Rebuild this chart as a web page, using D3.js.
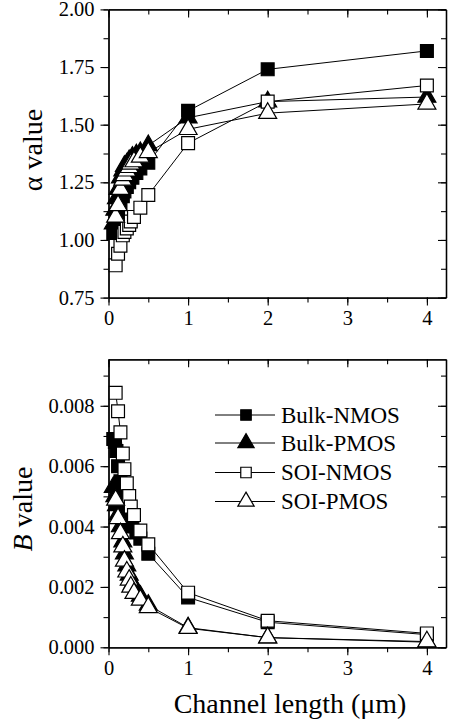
<!DOCTYPE html>
<html>
<head>
<meta charset="utf-8">
<script src="https://cdn.jsdelivr.net/npm/d3@7"></script>
<style>
  body { margin: 0; background: #fff; }
  svg { display: block; font-family: "Liberation Serif", "Times New Roman", serif; }
</style>
</head>
<body>
<svg id="chart" width="455" height="725"></svg>
<script>
// channel lengths (um)
const lengthBulk = [0.06, 0.08, 0.1, 0.12, 0.15, 0.18, 0.2, 0.23, 0.26, 0.3, 0.35, 0.4, 0.5, 1, 2, 4];
const lengthSOI = [0.09, 0.12, 0.15, 0.18, 0.2, 0.23, 0.26, 0.28, 0.32, 0.4, 0.5, 1, 2, 4];

// alpha values
const alphaBulkN = [1.03, 1.06, 1.09, 1.12, 1.16, 1.19, 1.21, 1.23, 1.25, 1.27, 1.29, 1.31, 1.335, 1.56, 1.74, 1.82];
const alphaBulkP = [1.07, 1.13, 1.18, 1.22, 1.27, 1.30, 1.32, 1.33, 1.345, 1.36, 1.37, 1.38, 1.41, 1.53, 1.60, 1.62];
const alphaSOIN = [0.89, 0.94, 0.975, 1.02, 1.035, 1.05, 1.065, 1.08, 1.10, 1.14, 1.195, 1.42, 1.60, 1.67];
const alphaSOIP = [1.10, 1.15, 1.22, 1.26, 1.28, 1.30, 1.315, 1.33, 1.34, 1.36, 1.38, 1.48, 1.55, 1.59];

// B values
const bBulkN = [0.0069, 0.0068, 0.0065, 0.0060, 0.0055, 0.0051, 0.0048, 0.0045, 0.0043, 0.0040, 0.0038, 0.0036, 0.0031, 0.00165, 0.00083, 0.00042];
const bBulkP = [0.0053, 0.0050, 0.0047, 0.0044, 0.0040, 0.0035, 0.0031, 0.0027, 0.0024, 0.0021, 0.0019, 0.0017, 0.0014, 0.00065, 0.00032, 0.00017];
const bSOIN = [0.00843, 0.00782, 0.00712, 0.00642, 0.0059, 0.00543, 0.00501, 0.00466, 0.00438, 0.00387, 0.00341, 0.00181, 0.00088, 0.00046];
const bSOIP = [0.00488, 0.00427, 0.00377, 0.00333, 0.00286, 0.0025, 0.00223, 0.002, 0.00179, 0.00157, 0.00132, 0.00063, 0.00032, 0.00019];

const seriesNames = ["Bulk-NMOS", "Bulk-PMOS", "SOI-NMOS", "SOI-PMOS"];
const xTicks = [0, 1, 2, 3, 4];
const alphaTicks = [0.75, 1.00, 1.25, 1.50, 1.75, 2.00];
const bTicks = [0.000, 0.002, 0.004, 0.006, 0.008];

const series = [
  {name: seriesNames[0], x: lengthBulk, a: alphaBulkN, b: bBulkN, shape: d3.symbolSquare, fill: "#000"},
  {name: seriesNames[1], x: lengthBulk, a: alphaBulkP, b: bBulkP, shape: d3.symbolTriangle, fill: "#000"},
  {name: seriesNames[2], x: lengthSOI, a: alphaSOIN, b: bSOIN, shape: d3.symbolSquare, fill: "#fff"},
  {name: seriesNames[3], x: lengthSOI, a: alphaSOIP, b: bSOIP, shape: d3.symbolTriangle, fill: "#fff"}
];

const svg = d3.select("#chart");
const left = 108.5, right = 446;

// marker paths, plot markers are a bit bigger than the legend ones
function symbolPath(shape, small) {
  let size = shape === d3.symbolSquare ? 165 : 140;
  if (small) size = shape === d3.symbolSquare ? 110 : 115;
  return d3.symbol().type(shape).size(size)();
}

function drawPanel(top, bottom, yDomain, yTicks, yMinor, fmt, key) {
  const x = d3.scaleLinear().domain([0, 4.24]).range([left, right]);
  const y = d3.scaleLinear().domain(yDomain).range([bottom, top]);
  const g = svg.append("g");
  const xMinor = d3.range(0, 4.25, 0.5);

  // left axis, outward ticks
  g.append("g").attr("transform", `translate(${left},0)`)
    .call(d3.axisLeft(y).tickValues(yMinor).tickSize(5).tickSizeOuter(0).tickFormat(""));
  g.append("g").attr("transform", `translate(${left},0)`)
    .call(d3.axisLeft(y).tickValues(yTicks).tickSize(8).tickPadding(6).tickSizeOuter(0).tickFormat(fmt));
  // right axis, inward ticks
  g.append("g").attr("transform", `translate(${right},0)`)
    .call(d3.axisRight(y).tickValues(yMinor).tickSize(-5).tickSizeOuter(0).tickFormat(""));
  g.append("g").attr("transform", `translate(${right},0)`)
    .call(d3.axisRight(y).tickValues(yTicks).tickSize(-8).tickSizeOuter(0).tickFormat(""));
  // bottom axis, outward ticks
  g.append("g").attr("transform", `translate(0,${bottom})`)
    .call(d3.axisBottom(x).tickValues(xMinor).tickSize(5).tickSizeOuter(0).tickFormat(""));
  g.append("g").attr("transform", `translate(0,${bottom})`)
    .call(d3.axisBottom(x).tickValues(xTicks).tickSize(8).tickPadding(5).tickSizeOuter(0).tickFormat(d3.format("d")));
  // top axis, inward ticks
  g.append("g").attr("transform", `translate(0,${top})`)
    .call(d3.axisTop(x).tickValues(xMinor).tickSize(-5).tickSizeOuter(0).tickFormat(""));
  g.append("g").attr("transform", `translate(0,${top})`)
    .call(d3.axisTop(x).tickValues(xTicks).tickSize(-8).tickSizeOuter(0).tickFormat(""));

  g.selectAll(".domain").attr("stroke", "#000").attr("stroke-width", 1.3);
  g.selectAll(".tick line").attr("stroke", "#000").attr("stroke-width", 1.1);
  g.selectAll(".tick text").attr("fill", "#000").style("font-size", "20.5px")
    .style("font-family", "'Liberation Serif', 'Times New Roman', serif");

  const line = d3.line().x(d => x(d[0])).y(d => y(d[1]));
  series.forEach(s => {
    const pts = s.x.map((v, i) => [v, s[key][i]]);
    g.append("path").datum(pts).attr("d", line)
      .attr("fill", "none").attr("stroke", "#000").attr("stroke-width", 1);
    g.selectAll(null).data(pts).enter().append("path")
      .attr("d", symbolPath(s.shape))
      .attr("transform", d => `translate(${x(d[0])},${y(d[1])})`)
      .attr("fill", s.fill).attr("stroke", "#000").attr("stroke-width", 1.2);
  });
  return {x, y, g};
}

// top panel: alpha
drawPanel(9.4, 297.6, [0.75, 2.0], alphaTicks, d3.range(0.75, 2.01, 0.125), d3.format(".2f"), "a");
// bottom panel: B
drawPanel(359.3, 647.3, [0, 0.00954], bTicks, d3.range(0, 0.0095, 0.001), d3.format(".3f"), "b");

// axis titles
svg.append("text")
  .attr("transform", "translate(42,150) rotate(-90)")
  .attr("text-anchor", "middle")
  .style("font-size", "28px")
  .text("\u03b1  value");

const bTitle = svg.append("text")
  .attr("transform", "translate(32,509) rotate(-90)")
  .attr("text-anchor", "middle")
  .style("font-size", "28px");
bTitle.append("tspan").style("font-style", "italic").text("B");
bTitle.append("tspan").text("  value");

svg.append("text")
  .attr("x", 290).attr("y", 713)
  .attr("text-anchor", "middle")
  .style("font-size", "28px")
  .text("Channel length (\u03bcm)");

// legend
const legendY = [415, 443, 472.5, 501.5];
series.forEach((s, i) => {
  const lg = svg.append("g").attr("transform", `translate(0,${legendY[i]})`);
  lg.append("line").attr("x1", 215).attr("x2", 275).attr("y1", 0).attr("y2", 0)
    .attr("stroke", "#000").attr("stroke-width", 1);
  lg.append("path").attr("d", symbolPath(s.shape, true))
    .attr("transform", "translate(246,0)")
    .attr("fill", s.fill).attr("stroke", "#000").attr("stroke-width", 1.2);
  lg.append("text").attr("x", 281).attr("y", 7.5)
    .style("font-size", "23px")
    .text(s.name);
});
</script>
</body>
</html>
